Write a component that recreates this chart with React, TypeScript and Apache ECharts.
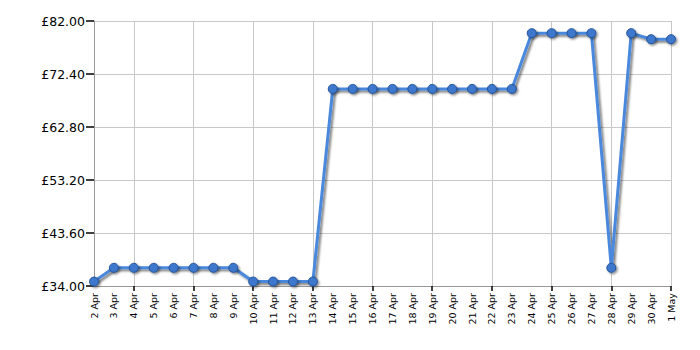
import React, { useEffect, useRef } from "react";
import * as echarts from "echarts";

const categories = [
  "2 Apr", "3 Apr", "4 Apr", "5 Apr", "6 Apr", "7 Apr", "8 Apr", "9 Apr", "10 Apr", "11 Apr",
  "12 Apr", "13 Apr", "14 Apr", "15 Apr", "16 Apr", "17 Apr", "18 Apr", "19 Apr", "20 Apr", "21 Apr",
  "22 Apr", "23 Apr", "24 Apr", "25 Apr", "26 Apr", "27 Apr", "28 Apr", "29 Apr", "30 Apr", "1 May",
];
const prices = [
  34.8, 37.3, 37.3, 37.3, 37.3, 37.3, 37.3, 37.3, 34.8, 34.8,
  34.8, 34.8, 69.7, 69.7, 69.7, 69.7, 69.7, 69.7, 69.7, 69.7,
  69.7, 69.7, 79.8, 79.8, 79.8, 79.8, 37.3, 79.8, 78.7, 78.7,
];
const yMin = 34;
const yMax = 82;
const yStep = 9.6;

export default function App() {
  const ref = useRef<HTMLDivElement>(null);
  useEffect(() => {
    if (!ref.current) return;
    const chart = echarts.init(ref.current, null, { renderer: "svg" });
    const gridInterval = (i: number) => (i - 2) % 3 === 0 && i >= 2;
    chart.setOption({
      animation: false,
      grid: { left: 94, right: 29, top: 21, bottom: 64, containLabel: false },
      xAxis: {
        type: "category",
        data: categories,
        boundaryGap: false,
        axisLine: { show: true, lineStyle: { color: "#999", width: 1 } },
        axisTick: {
          show: true,
          interval: gridInterval,
          length: 5,
          inside: false,
          lineStyle: { color: "#000", width: 1.5 },
        },
        axisLabel: {
          interval: 0,
          rotate: 90,
          fontFamily: "DejaVu Sans",
          fontSize: 9.5,
          color: "#000",
          margin: 7,
        },
        splitLine: {
          show: true,
          interval: gridInterval,
          lineStyle: { color: "#c8c8c8", width: 1 },
        },
      },
      yAxis: {
        type: "value",
        min: yMin,
        max: yMax,
        interval: yStep,
        axisLine: { show: true, lineStyle: { color: "#999", width: 1 } },
        axisTick: { show: true, length: 8, lineStyle: { color: "#000", width: 1.5 } },
        axisLabel: {
          fontFamily: "DejaVu Sans",
          fontSize: 12.5,
          color: "#000",
          margin: 9,
          formatter: (v: number) => "£" + v.toFixed(2),
        },
        splitLine: { show: true, lineStyle: { color: "#c8c8c8", width: 1 } },
      },
      series: [
        {
          type: "line",
          data: prices,
          symbol: "circle",
          symbolSize: 9,
          lineStyle: {
            color: "#4a88dc",
            width: 3,
            shadowColor: "rgba(0,0,0,0.5)",
            shadowBlur: 2,
            shadowOffsetX: 2,
            shadowOffsetY: 2,
          },
          itemStyle: {
            color: "#3c78cc",
            borderColor: "#24529a",
            borderWidth: 1,
            shadowColor: "rgba(0,0,0,0.45)",
            shadowBlur: 2,
            shadowOffsetX: 1.5,
            shadowOffsetY: 1.5,
          },
        },
      ],
    });
    return () => chart.dispose();
  }, []);
  return <div ref={ref} style={{ width: 700, height: 350, margin: -8 }} />;
}
